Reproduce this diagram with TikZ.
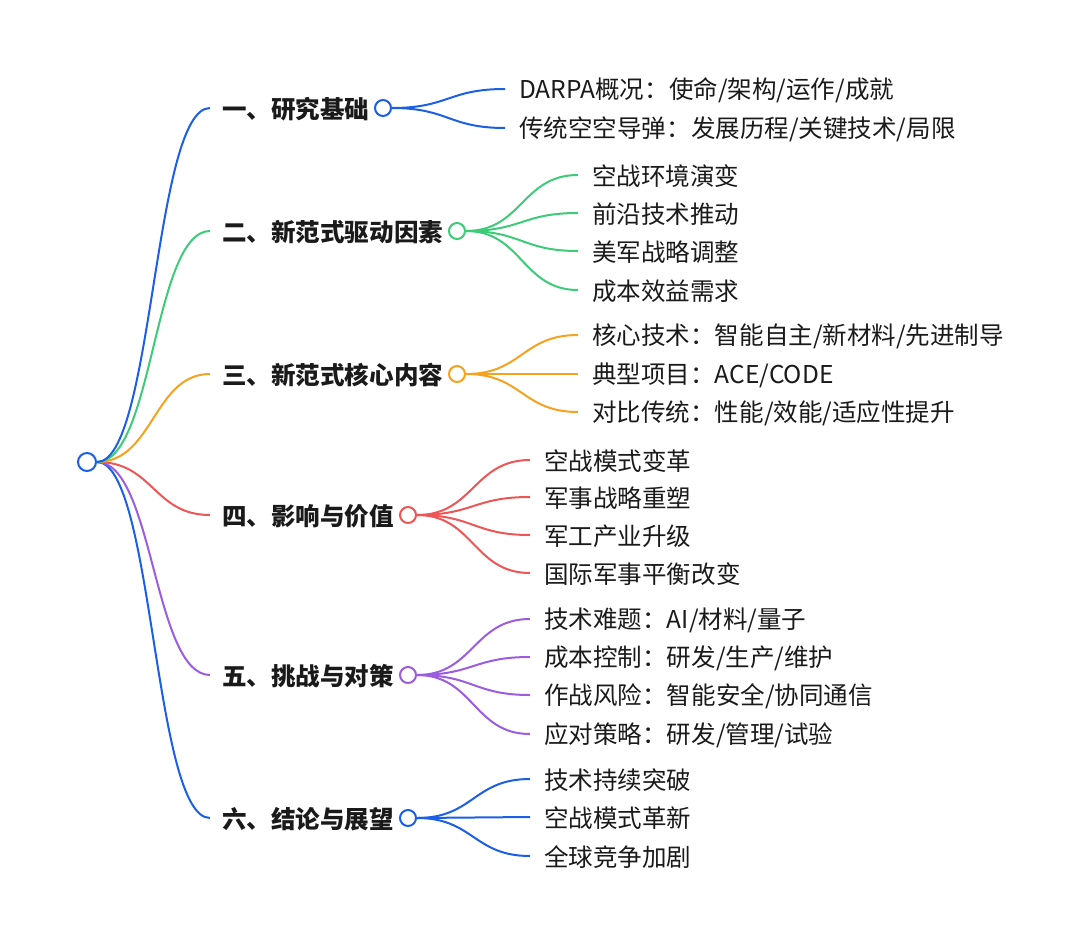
\documentclass[tikz,border=0pt]{standalone}
\usepackage{fontspec}
\setmainfont{Noto Sans CJK SC}
\usetikzlibrary{calc,backgrounds}
\definecolor{cblue}{HTML}{1A5FE6}
\definecolor{cgreen}{HTML}{3DCB78}
\definecolor{corange}{HTML}{F5A21E}
\definecolor{cred}{HTML}{EE5555}
\definecolor{cpurple}{HTML}{9B5CE0}
\definecolor{ctext}{HTML}{1A1A1A}
\tikzset{
  curve/.style={to path={let \p1=(\tikztostart), \p2=(\tikztotarget) in
     .. controls ({(\x1+\x2)/2},\y1) and ({(\x1+\x2)/2},\y2) .. (\tikztotarget)}},
  link/.style={draw=#1, line width=1.5pt},
  dot/.style={circle, draw=#1, line width=1.5pt, fill=white, minimum size=12pt, inner sep=0pt},
  title/.style={anchor=west, inner xsep=9pt, inner ysep=0pt, text=ctext, font=\fontsize{18.4}{22}\selectfont\bfseries},
  leaf/.style={anchor=west, inner xsep=10.5pt, inner ysep=0pt, text=ctext, font=\fontsize{18.4}{22}\selectfont},
}
\begin{document}
\begin{tikzpicture}[x=0.75pt,y=-0.75pt]
\useasboundingbox (0,0) rectangle (1080,945);
% root
\node[dot=cblue, minimum size=13.5pt] (root) at (87,462) {};
% branch titles
\node[title] (t1) at (210,109) {一、研究基础};
\node[title] (t2) at (210,232) {二、新范式驱动因素};
\node[title] (t3) at (210,375) {三、新范式核心内容};
\node[title] (t4) at (210,516) {四、影响与价值};
\node[title] (t5) at (210,676) {五、挑战与对策};
\node[title] (t6) at (210,819) {六、结论与展望};
% branch circles
\node[dot=cblue] (c1) at (383,108) {};
\node[dot=cgreen] (c2) at (457,231) {};
\node[dot=corange] (c3) at (457,374) {};
\node[dot=cred] (c4) at (408,515) {};
\node[dot=cpurple] (c5) at (408,675) {};
\node[dot=cblue] (c6) at (408,818) {};
% leaves
\node[leaf] (l11) at (505,90) {DARPA概况：使命/架构/运作/成就};
\node[leaf] (l12) at (505,129) {传统空空导弹：发展历程/关键技术/局限};
\node[leaf] (l21) at (578,176) {空战环境演变};
\node[leaf] (l22) at (578,214) {前沿技术推动};
\node[leaf] (l23) at (578,252) {美军战略调整};
\node[leaf] (l24) at (578,291) {成本效益需求};
\node[leaf] (l31) at (578,336) {核心技术：智能自主/新材料/先进制导};
\node[leaf] (l32) at (578,375) {典型项目：ACE/CODE};
\node[leaf] (l33) at (578,413) {对比传统：性能/效能/适应性提升};
\node[leaf] (l41) at (530,461) {空战模式变革};
\node[leaf] (l42) at (530,498) {军事战略重塑};
\node[leaf] (l43) at (530,536) {军工产业升级};
\node[leaf] (l44) at (530,574) {国际军事平衡改变};
\node[leaf] (l51) at (530,620) {技术难题：AI/材料/量子};
\node[leaf] (l52) at (530,658) {成本控制：研发/生产/维护};
\node[leaf] (l53) at (530,696) {作战风险：智能安全/协同通信};
\node[leaf] (l54) at (530,735) {应对策略：研发/管理/试验};
\node[leaf] (l61) at (530,780) {技术持续突破};
\node[leaf] (l62) at (530,818) {空战模式革新};
\node[leaf] (l63) at (530,857) {全球竞争加剧};
\begin{pgfonlayer}{background}
% root-level links
\draw[link=cblue] (root.east) to[curve] ([yshift=0.75pt]t6.west);
\draw[link=cpurple] (root.east) to[curve] ([yshift=0.75pt]t5.west);
\draw[link=cred] (root.east) to[curve] ([yshift=0.75pt]t4.west);
\draw[link=corange] (root.east) to[curve] ([yshift=0.75pt]t3.west);
\draw[link=cgreen] (root.east) to[curve] ([yshift=0.75pt]t2.west);
\draw[link=cblue] (root.east) to[curve] ([yshift=0.75pt]t1.west);
% leaf links
\foreach \l in {l11,l12} \draw[link=cblue] (c1.east) to[curve] ([yshift=0.75pt]\l.west);
\foreach \l in {l21,l22,l23,l24} \draw[link=cgreen] (c2.east) to[curve] ([yshift=0.75pt]\l.west);
\foreach \l in {l31,l32,l33} \draw[link=corange] (c3.east) to[curve] ([yshift=0.75pt]\l.west);
\foreach \l in {l41,l42,l43,l44} \draw[link=cred] (c4.east) to[curve] ([yshift=0.75pt]\l.west);
\foreach \l in {l51,l52,l53,l54} \draw[link=cpurple] (c5.east) to[curve] ([yshift=0.75pt]\l.west);
\foreach \l in {l61,l62,l63} \draw[link=cblue] (c6.east) to[curve] ([yshift=0.75pt]\l.west);
\end{pgfonlayer}
\end{tikzpicture}
\end{document}
